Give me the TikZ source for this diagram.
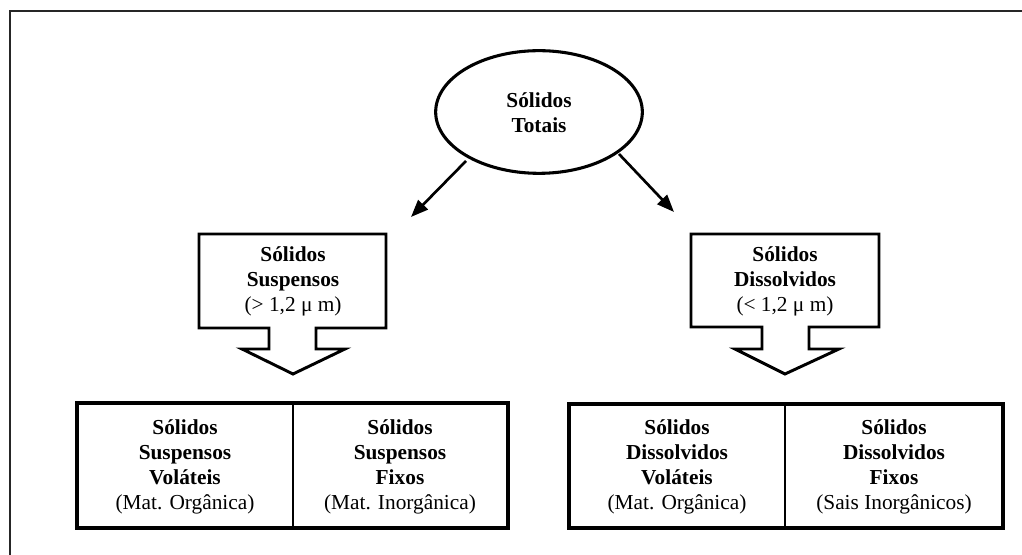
\documentclass[tikz,border=0pt]{standalone}
\usepackage{fontspec}
\setmainfont{Liberation Serif}
\usetikzlibrary{arrows.meta,shapes.geometric}
\begin{document}
\begin{tikzpicture}[x=0.75pt,y=-0.75pt,
  lbl/.style={align=center,font=\fontsize{16}{18.8}\selectfont,inner sep=0pt},
  boxline/.style={line width=2.6pt,line join=miter},
  callout/.style={line width=2.2pt,line join=miter},
  divline/.style={line width=1.6pt},
  arr/.style={line width=2pt,-{Triangle[length=13pt,width=10pt]}}]
\useasboundingbox (0,0) rectangle (1022,555);
% frame (top and left edges)
\draw[line width=1.4pt,black!85] (1022,11) -- (10,11) -- (10,555);
% top ellipse
\node[ellipse,draw,line width=2.3pt,minimum width=155,minimum height=92,inner sep=0pt] (tot) at (539,112) {};
\node[lbl] (totT) at (539,113) {\textbf{Sólidos}\\\textbf{Totais}};
% arrows
\coordinate (la0) at (466,161); \coordinate (la1) at (411,217);
\coordinate (ra0) at (619,154); \coordinate (ra1) at (674,212);
\draw[arr] (la0) -- (la1);
\draw[arr] (ra0) -- (ra1);
% left callout
\draw[callout] (199,234) -- (386,234) -- (386,328) -- (316,328) -- (316,349) -- (345,349) -- (293,374) -- (242,349) -- (269,349) -- (269,328) -- (199,328) -- cycle;
\node[lbl] (ss) at (293,281) {\textbf{Sólidos}\\\textbf{Suspensos}\\(> 1,2 μ m)};
% right callout
\draw[callout] (691,234) -- (879,234) -- (879,327) -- (809,327) -- (809,349) -- (839,349) -- (785,374) -- (735,349) -- (762,349) -- (762,327) -- (691,327) -- cycle;
\node[lbl] (sd) at (785,281) {\textbf{Sólidos}\\\textbf{Dissolvidos}\\(< 1,2 μ m)};
% bottom left boxes
\draw[boxline] (77,403) rectangle (508,528);
\draw[divline] (293,403) -- (293,528);
\node[lbl] (ssv) at (185,467) {\textbf{Sólidos}\\\textbf{Suspensos}\\\textbf{Voláteis}\\(Mat. Orgânica)};
\node[lbl] (ssf) at (400,467) {\textbf{Sólidos}\\\textbf{Suspensos}\\\textbf{Fixos}\\(Mat. Inorgânica)};
% bottom right boxes
\draw[boxline] (569,404) rectangle (1003,528);
\draw[divline] (785,404) -- (785,528);
\node[lbl] (sdv) at (677,467) {\textbf{Sólidos}\\\textbf{Dissolvidos}\\\textbf{Voláteis}\\(Mat. Orgânica)};
\node[lbl] (sdf) at (894,467) {\textbf{Sólidos}\\\textbf{Dissolvidos}\\\textbf{Fixos}\\(Sais Inorgânicos)};
\end{tikzpicture}
\end{document}
